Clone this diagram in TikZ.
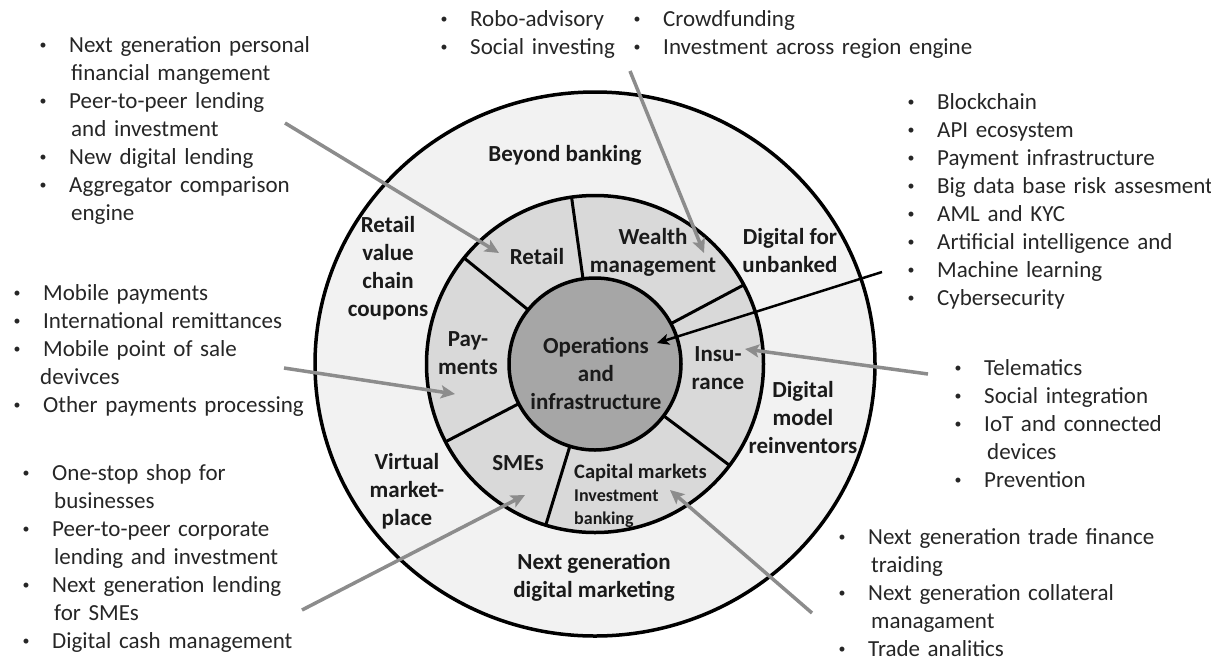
\documentclass[tikz,border=0pt]{standalone}
\usepackage{fontspec}
\setmainfont{Carlito}
\usetikzlibrary{arrows.meta,calc}

\definecolor{ringout}{HTML}{F2F2F2}
\definecolor{ringmid}{HTML}{D9D9D9}
\definecolor{core}{HTML}{A6A6A6}
\definecolor{pointer}{HTML}{8C8C8C}
\definecolor{ink}{HTML}{1A1A1A}
\definecolor{listink}{HTML}{262626}

% small bullet followed by the gap up to the item text
\newcommand\bitem{\makebox[32pt][l]{\hspace*{2.5pt}\raisebox{3pt}{\fontsize{14}{14}\selectfont\textbullet}}}

\begin{document}
\begin{tikzpicture}[x=1pt,y=-1pt,
  ringline/.style={draw=black,line width=3.5pt},
  spoke/.style={draw=black,line width=3pt},
  ringlabel/.style={font=\fontsize{23}{28}\selectfont\bfseries,text=ink,align=center,inner sep=0pt},
  listblock/.style={font=\fontsize{23}{28}\selectfont,text=listink,align=left,text width=420pt,anchor=base west,inner sep=0pt},
  pointerarrow/.style={draw=pointer,line width=3.5pt,-{Stealth[length=14pt,width=13pt,inset=3pt]}},
  darkarrow/.style={draw=black,line width=2.5pt,-{Stealth[length=12pt,width=11pt,inset=3pt]}}]

\useasboundingbox[fill=white] (0,0) rectangle (1211,657);

\coordinate (c) at (595,364);

% outer ring
\filldraw[ringline,fill=ringout] (c) ellipse [x radius=280pt, y radius=272pt];
% middle ring
\filldraw[ringline,fill=ringmid] (c) circle [radius=168.5pt];
% spokes between the segments of the middle ring
\foreach \a in {98,141,207.5,253,323,28}
  \draw[spoke] ($(c)+(\a:80pt)$) -- ($(c)+(\a:168pt)$);
% core
\filldraw[ringline,fill=core] (c) circle [radius=86pt];

% core and middle-ring labels
\node[ringlabel] (ops) at (596,373) {Operations\\and\\infrastructure};
\node[ringlabel] (retail) at (537,257) {Retail};
\node[ringlabel] (wealth) at (653,252) {Wealth\\management};
\node[ringlabel] (pay) at (468,353) {Pay-\\ments};
\node[ringlabel] (ins) at (718,368) {Insu-\\rance};
\node[ringlabel] (sme) at (518,463) {SMEs};
\node[font=\fontsize{20.5}{24}\selectfont\bfseries,text=ink,anchor=base west,inner sep=0pt] (capital) at (574,478) {Capital markets};
\node[font=\fontsize{18}{23}\selectfont\bfseries,text=ink,align=left,text width=100pt,anchor=base west,inner sep=0pt] (invest) at (574,501) {Investment\\banking};

% outer-ring labels
\node[ringlabel] (beyond) at (565,155) {Beyond banking};
\node[ringlabel] (coupons) at (388,268.5) {Retail\\value\\chain\\coupons};
\node[ringlabel] (unbanked) at (790,251) {Digital for\\unbanked};
\node[ringlabel] (reinvent) at (803,417.5) {Digital\\model\\reinventors};
\node[ringlabel] (virtual) at (407,491.5) {Virtual\\market-\\place};
\node[ringlabel] (nextgen) at (594,577.5) {Next generation\\digital marketing};

% pointers from the lists into the segments
\coordinate (retailFrom) at (285,123);  \coordinate (retailTo) at (499,253);
\coordinate (wealthFrom) at (630,71);   \coordinate (wealthTo) at (704,253);
\coordinate (insFrom) at (928,374);     \coordinate (insTo) at (745,349);
\coordinate (capFrom) at (812,613);     \coordinate (capTo) at (670,490);
\coordinate (smeFrom) at (302,610);     \coordinate (smeTo) at (525,495);
\coordinate (payFrom) at (284,368);     \coordinate (payTo) at (455,394);
\coordinate (infraFrom) at (882,272);   \coordinate (infraTo) at (657,343);

\draw[pointerarrow] (retailFrom) -- (retailTo);
\draw[pointerarrow] (wealthFrom) -- (wealthTo);
\draw[pointerarrow] (insFrom) -- (insTo);
\draw[pointerarrow] (capFrom) -- (capTo);
\draw[pointerarrow] (smeFrom) -- (smeTo);
\draw[pointerarrow] (payFrom) -- (payTo);
\draw[darkarrow] (infraFrom) -- (infraTo);

% bullet lists
\node[listblock] (listRetail) at (37,52) {%
\bitem Next generation personal\\\hspace*{34pt}financial mangement\\
\bitem Peer-to-peer lending\\\hspace*{34pt}and investment\\
\bitem New digital lending\\
\bitem Aggregator comparison\\\hspace*{34pt}engine};

\node[listblock] (listPay) at (11,300) {%
\bitem Mobile payments\\
\bitem International remittances\\
\bitem Mobile point of sale\\\hspace*{29pt}devivces\\
\bitem Other payments processing};

\node[listblock] (listSME) at (20,480) {%
\bitem One-stop shop for\\\hspace*{34pt}businesses\\
\bitem Peer-to-peer corporate\\\hspace*{34pt}lending and investment\\
\bitem Next generation lending\\\hspace*{34pt}for SMEs\\
\bitem Digital cash management};

\node[listblock] (listWealthA) at (438,26) {%
\bitem Robo-advisory\\
\bitem Social investing};

\node[listblock] (listWealthB) at (631,26) {%
\bitem Crowdfunding\\
\bitem Investment across region engine};

\node[listblock] (listInfra) at (905,109) {%
\bitem Blockchain\\
\bitem API ecosystem\\
\bitem Payment infrastructure\\
\bitem Big data base risk assesment\\
\bitem AML and KYC\\
\bitem Artificial intelligence and\\
\bitem Machine learning\\
\bitem Cybersecurity};

\node[listblock] (listIns) at (952,375) {%
\bitem Telematics\\
\bitem Social integration\\
\bitem IoT and connected\\\hspace*{35pt}devices\\
\bitem Prevention};

\node[listblock] (listCap) at (836,544) {%
\bitem Next generation trade finance\\\hspace*{35pt}traiding\\
\bitem Next generation collateral\\\hspace*{35pt}managament\\
\bitem Trade analitics};

\end{tikzpicture}
\end{document}
